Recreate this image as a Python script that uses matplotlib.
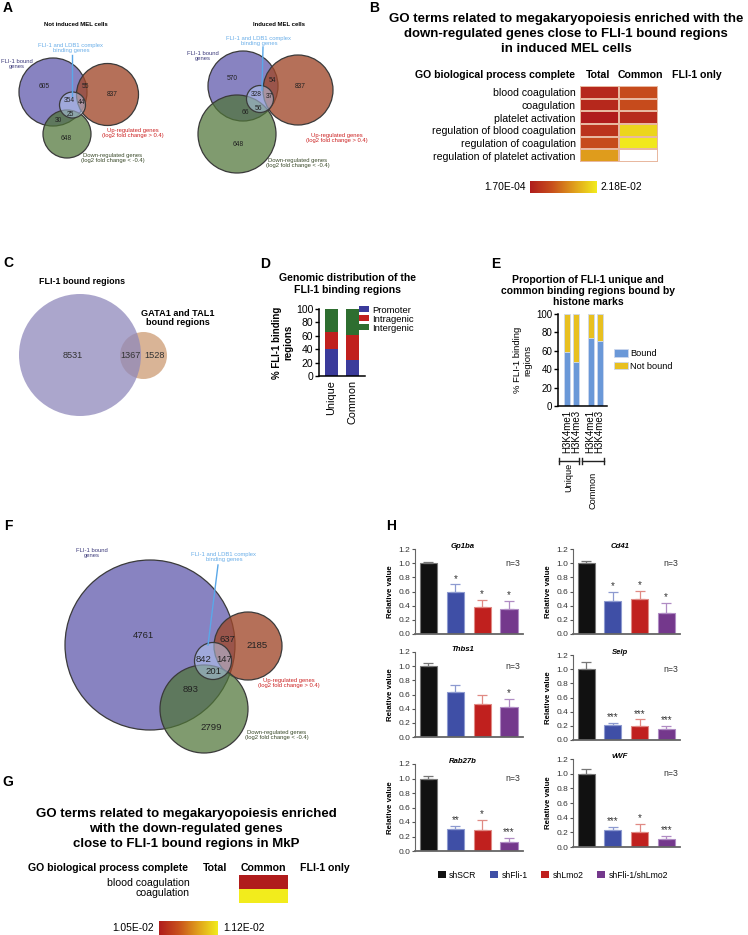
import numpy as np
import matplotlib.pyplot as plt
from matplotlib.patches import Circle, Patch
from matplotlib.colors import LinearSegmentedColormap, Normalize

plt.rcParams['font.family'] = ['Liberation Sans', 'DejaVu Sans']

# ---------------- data ----------------
# Panel A / F: Venn region counts
# order: FLI-1 only, FLI-1&up, up only, LDB1, LDB1&up, LDB1&down, FLI-1&down, down only
a_not_induced = [605, 55, 837, 354, 44, 25, 30, 648]
a_induced = [570, 54, 837, 328, 37, 56, 66, 648]
f_mkp = [4761, 637, 2185, 842, 147, 201, 893, 2799]

# Panel B: GO heatmap p-values
b_terms = ["blood coagulation", "coagulation", "platelet activation",
           "regulation of blood coagulation", "regulation of coagulation",
           "regulation of platelet activation"]
b_total = [1.9e-3, 1.9e-3, 1.7e-4, 3.4e-3, 6.7e-3, 1.42e-2]
b_common = [6.7e-3, 6.7e-3, 2.3e-3, 1.96e-2, 2.14e-2, np.nan]
b_range = [1.70e-4, 2.18e-2]

# Panel C: overlap of bound regions
c_counts = [8531, 1367, 1528]

# Panel D: genomic distribution (%)
d_groups = ["Unique", "Common"]
d_promoter = [40, 24.5]
d_intragenic = [26, 36.5]
d_intergenic = [34, 39]

# Panel E: histone marks (%)
e_marks = ["H3K4me1", "H3K4me3", "H3K4me1", "H3K4me3"]
e_bound = [59, 48, 74, 71]
e_not_bound = [41, 52, 26, 29]

# Panel G: GO heatmap in MkP
g_terms = ["blood coagulation", "coagulation"]
g_total = [np.nan, np.nan]
g_common = [1.05e-2, 1.12e-2]
g_range = [1.05e-2, 1.12e-2]

# Panel H: qPCR relative values
h_conditions = ["shSCR", "shFli-1", "shLmo2", "shFli-1/shLmo2"]
h_genes = ["Gp1ba", "Cd41", "Thbs1", "Selp", "Rab27b", "vWF"]
h_mean = [[1.0, 0.60, 0.38, 0.35],
          [1.0, 0.46, 0.50, 0.30],
          [1.0, 0.63, 0.46, 0.42],
          [1.0, 0.21, 0.20, 0.15],
          [1.0, 0.30, 0.29, 0.13],
          [1.0, 0.23, 0.21, 0.11]]
h_err = [[0.01, 0.10, 0.10, 0.12],
         [0.03, 0.14, 0.11, 0.14],
         [0.04, 0.11, 0.14, 0.12],
         [0.10, 0.03, 0.09, 0.05],
         [0.04, 0.05, 0.14, 0.05],
         [0.07, 0.04, 0.10, 0.04]]
h_stars = [["", "*", "*", "*"],
           ["", "*", "*", "*"],
           ["", "", "", "*"],
           ["", "***", "***", "***"],
           ["", "**", "*", "***"],
           ["", "***", "*", "***"]]

# ---------------- figure ----------------
W, H = 748, 935
fig = plt.figure(figsize=(W / 100, H / 100), dpi=100)


def px_axes(x0, y0, x1, y1):
    return fig.add_axes([x0 / W, 1 - y1 / H, (x1 - x0) / W, (y1 - y0) / H])


canvas = fig.add_axes([0, 0, 1, 1])
canvas.set_xlim(0, W)
canvas.set_ylim(H, 0)
canvas.axis('off')

for letter, (lx, ly) in zip("ABCDEFGH", [(8, 8), (374, 8), (8, 263), (265, 264),
                                         (496, 264), (8, 526), (8, 782), (391, 526)]):
    canvas.text(lx, ly, letter, fontsize=10, weight='bold', ha='center', va='center')


def circle(cx, cy, r, fc, alpha, edge=True):
    canvas.add_patch(Circle((cx, cy), r, fc=fc, ec='none', alpha=alpha))
    if edge:
        canvas.add_patch(Circle((cx, cy), r, fill=False, ec='#3a3a3a', lw=0.9))


def venn(circles, counts, count_pos, fsize, labels):
    (p, r, g, s) = circles
    circle(*p, '#5b54aa', 0.72)
    circle(*r, '#a0482a', 0.78)
    circle(*g, '#4f7537', 0.72)
    circle(*s, '#b8d0f5', 0.5)
    for n, (x, y) in zip(counts, count_pos):
        canvas.text(x, y, str(n), fontsize=fsize, ha='center', va='center', color='#222')
    lab_fs, fli, ldb, line, up, down = labels
    canvas.text(*fli, "FLI-1 bound\ngenes", fontsize=lab_fs, ha='center', va='center',
                color='#3c3a7a', linespacing=1.1)
    canvas.text(*ldb, "FLI-1 and LDB1 complex\nbinding genes", fontsize=lab_fs, ha='center',
                va='center', color='#6aaee8', linespacing=1.1)
    canvas.plot(line[0], line[1], color='#5aa8e8', lw=1)
    canvas.text(*up, "Up-regulated genes\n(log2 fold change > 0.4)", fontsize=lab_fs,
                ha='center', va='center', color='#cc2222', linespacing=1.1)
    canvas.text(*down, "Down-regulated genes\n(log2 fold change < -0.4)", fontsize=lab_fs,
                ha='center', va='center', color='#3a4a2a', linespacing=1.1)


# Panel A left
canvas.text(76, 25, "Not induced MEL cells", fontsize=4.3, weight='bold', ha='center', va='center')
venn([(53, 92, 34), (107.5, 94.5, 31), (67, 134, 24), (72.5, 105, 13)], a_not_induced,
     [(44, 86), (85, 87), (112, 94), (69, 101), (82, 103), (70, 114), (58, 121), (66, 139)], 4.8,
     (4.2, (17, 64), (71, 48), ([72, 72], [55, 97]), (133, 133), (113, 158)))

# Panel A right
canvas.text(279, 25, "Induced MEL cells", fontsize=4.3, weight='bold', ha='center', va='center')
venn([(243, 86, 35), (298, 90, 35), (237, 134, 39), (260, 99, 13.5)], a_induced,
     [(232, 79), (272, 80), (300, 87), (256, 95), (269, 97), (258, 108), (245, 113), (238, 144)], 4.8,
     (4.2, (203, 56), (259, 41), ([263, 262], [47, 90]), (337, 138), (298, 163)))

# Panel F
venn([(150, 645, 85), (248, 646, 34), (204, 709, 44), (213, 661, 18.5)], f_mkp,
     [(143, 635), (227, 639), (257, 646), (204, 659), (224, 659), (213, 672), (191, 690), (211, 727)], 6.8,
     (4.2, (92, 553), (224, 557), ([218, 208], [565, 645]), (289, 683), (277, 735)))

# Panel C
circle(143.5, 355.5, 23.5, '#c9956a', 0.7, edge=False)
circle(80, 355, 61, '#8f88bb', 0.75, edge=False)
canvas.text(82, 281, "FLI-1 bound regions", fontsize=6.4, weight='bold', ha='center', va='center')
canvas.text(178, 318, "GATA1 and TAL1\nbound regions", fontsize=6.6, weight='bold',
            ha='center', va='center', linespacing=1.1)
for n, (x, y) in zip(c_counts, [(73, 356), (131, 356), (155, 356)]):
    canvas.text(x, y, str(n), fontsize=6.6, ha='center', va='center', color='#333')

# ---------------- heatmaps ----------------
go_cmap = LinearSegmentedColormap.from_list('go', ['#b01c1c', '#c8501c', '#e0a01c', '#f2ec1c'])

canvas.text(566, 34, "GO terms related to megakaryopoiesis enriched with the\n"
            "down-regulated genes close to FLI-1 bound regions\nin induced MEL cells",
            fontsize=9.5, weight='bold', ha='center', va='center', linespacing=1.32)
for txt, x, ha in [("GO biological process complete", 575, 'right'), ("Total", 598, 'center'),
                   ("Common", 640, 'center'), ("FLI-1 only", 697, 'center')]:
    canvas.text(x, 75, txt, fontsize=7.6, weight='bold', ha=ha, va='center')

axb = px_axes(580, 86, 658, 162)
mb = np.ma.masked_invalid(np.array([b_total, b_common]).T)
axb.pcolormesh(mb, cmap=go_cmap, norm=Normalize(*b_range), edgecolors='#e8b8a0', linewidth=0.3)
axb.set_xlim(0, 2)
axb.set_ylim(6, 0)
axb.set_yticks(np.arange(6) + 0.5, b_terms, fontsize=7.6)
axb.set_xticks([])
axb.tick_params(length=0, pad=3)
for s in axb.spines.values():
    s.set_visible(False)

axcb = px_axes(530, 181, 597, 193)
axcb.imshow(np.linspace(0, 1, 256)[None, :], aspect='auto', cmap=go_cmap)
axcb.axis('off')
canvas.text(526, 187, "%.2E" % b_range[0], fontsize=7.4, ha='right', va='center')
canvas.text(601, 187, "%.2E" % b_range[1], fontsize=7.4, ha='left', va='center')

canvas.text(186, 829, "GO terms related to megakaryopoiesis enriched\nwith the down-regulated genes\n"
            "close to FLI-1 bound regions in MkP",
            fontsize=9.5, weight='bold', ha='center', va='center', linespacing=1.32)
for txt, x, ha in [("GO biological process complete", 188, 'right'), ("Total", 215, 'center'),
                   ("Common", 263, 'center'), ("FLI-1 only", 325, 'center')]:
    canvas.text(x, 868, txt, fontsize=7.6, weight='bold', ha=ha, va='center')

axg = px_axes(190, 875, 288, 903)
mg = np.ma.masked_invalid(np.array([g_total, g_common]).T)
axg.pcolormesh(mg, cmap=go_cmap, norm=Normalize(*g_range))
axg.set_xlim(0, 2)
axg.set_ylim(2, 0)
axg.set_yticks([0.5, 1.2], g_terms, fontsize=7.6)
axg.set_xticks([])
axg.tick_params(length=0, pad=0)
for s in axg.spines.values():
    s.set_visible(False)

axcg = px_axes(159, 921, 218, 935)
axcg.imshow(np.linspace(0, 1, 256)[None, :], aspect='auto', cmap=go_cmap)
axcg.axis('off')
canvas.text(154, 928, "%.2E" % g_range[0], fontsize=7.4, ha='right', va='center')
canvas.text(223, 928, "%.2E" % g_range[1], fontsize=7.4, ha='left', va='center')

# ---------------- Panel D ----------------
canvas.text(348, 284, "Genomic distribution of the\nFLI-1 binding regions", fontsize=7.6,
            weight='bold', ha='center', va='center', linespacing=1.15)
axd = px_axes(319, 309, 365, 376)
xd = np.arange(len(d_groups))
axd.bar(xd, d_promoter, 0.62, color='#3b3b9b', label='Promoter')
axd.bar(xd, d_intragenic, 0.62, bottom=d_promoter, color='#c0201e', label='Intragenic')
axd.bar(xd, d_intergenic, 0.62, bottom=np.add(d_promoter, d_intragenic), color='#2e6e30',
        label='Intergenic')
axd.set_xlim(-0.6, 1.6)
axd.set_ylim(0, 100)
axd.set_yticks(range(0, 101, 20))
axd.set_xticks(xd, d_groups, rotation=90)
axd.tick_params(axis='y', labelsize=7.5, length=3, width=1, pad=1)
axd.tick_params(axis='x', labelsize=7.8, length=0, pad=3)
axd.spines[['top', 'right']].set_visible(False)
axd.spines[['left', 'bottom']].set_linewidth(1.1)
axd.set_ylabel("% FLI-1 binding\nregions", fontsize=7, weight='bold', labelpad=2, linespacing=1.1)
axd.legend(loc='upper left', bbox_to_anchor=(0.88, 1.05), frameon=False, fontsize=6.8,
           handlelength=1.0, handleheight=0.6, labelspacing=0.0, handletextpad=0.3,
           borderpad=0, borderaxespad=0)

# ---------------- Panel E ----------------
canvas.text(588, 291, "Proportion of FLI-1 unique and\ncommon binding regions bound by\nhistone marks",
            fontsize=7.5, weight='bold', ha='center', va='center', linespacing=1.15)
axe = px_axes(558, 314, 607, 406)
xe = [0, 1, 2.6, 3.6]
axe.bar(xe, e_bound, 0.67, color='#6a98d8', edgecolor='#cdd8ee', lw=0.6, label='Bound')
axe.bar(xe, e_not_bound, 0.67, bottom=e_bound, color='#e8c020', edgecolor='#cdd8ee', lw=0.6,
        label='Not bound')
axe.set_xlim(-1, 4.4)
axe.set_ylim(0, 100)
axe.set_yticks(range(0, 101, 20))
axe.set_xticks(xe, e_marks, rotation=90)
axe.tick_params(axis='y', labelsize=7, length=3, width=1, pad=1)
axe.tick_params(axis='x', labelsize=7, length=0, pad=3)
axe.spines[['top', 'right']].set_visible(False)
axe.spines[['left', 'bottom']].set_linewidth(1.1)
axe.set_ylabel("% FLI-1 binding\nregions", fontsize=6.8, labelpad=3, linespacing=1.1)
axe.legend(loc='upper left', bbox_to_anchor=(1.15, 0.62), frameon=False, fontsize=6.6,
           handlelength=1.5, handleheight=0.9, labelspacing=0.4, handletextpad=0.2,
           borderpad=0, borderaxespad=0)
for x0, x1, name, ty in [(559, 579, "Unique", 463), (582, 604, "Common", 472)]:
    canvas.plot([x0, x1], [461, 461], color='#222', lw=1)
    canvas.plot([x0, x0], [458, 464], color='#222', lw=1)
    canvas.plot([x1, x1], [458, 464], color='#222', lw=1)
    canvas.text((x0 + x1) / 2, ty, name, rotation=90, fontsize=6.6, ha='center', va='top')

# ---------------- Panel H ----------------
h_colors = ['#111111', '#3f4fa6', '#c0201e', '#74388c']
h_edges = ['#777777', '#8d9ad0', '#e08a84', '#b08cc4']
h_boxes = [(415, 549, 523, 634), (573, 549, 680, 634), (415, 652, 523, 737),
           (573, 655, 680, 740), (415, 764, 523, 851), (573, 759, 680, 847)]
xh = np.arange(len(h_conditions))
for gene, mean, err, stars, box in zip(h_genes, h_mean, h_err, h_stars, h_boxes):
    ax = px_axes(*box)
    for i in xh:
        ax.bar(xh[i], mean[i], 0.64, color=h_colors[i], edgecolor=h_edges[i], lw=0.8,
               yerr=[[0], [err[i]]], error_kw=dict(ecolor=h_edges[i], capsize=3.5,
                                                    elinewidth=0.9, capthick=0.9))
        if stars[i]:
            ax.text(xh[i], mean[i] + err[i] + 0.01, stars[i], ha='center', va='bottom',
                    fontsize=7, color='#333')
    ax.set_xlim(-0.5, 3.52)
    ax.set_ylim(0, 1.2)
    ax.set_yticks(np.arange(0, 1.21, 0.2))
    ax.yaxis.set_major_formatter(plt.FormatStrFormatter('%.1f'))
    ax.set_xticks([])
    ax.tick_params(axis='y', labelsize=6, length=2.5, width=0.8, color='#555',
                   labelcolor='#333', pad=1)
    ax.spines[['top', 'right']].set_visible(False)
    ax.spines[['left', 'bottom']].set_color('#666')
    ax.spines['left'].set_linewidth(0.8)
    ax.spines['bottom'].set_linewidth(1.3)
    ax.set_ylabel("Relative value", fontsize=5.7, weight='bold', labelpad=3)
    ax.text(0.44, 1.03, gene, transform=ax.transAxes, fontsize=5.6, weight='bold',
            style='italic', ha='center', va='center')
    ax.text(0.91, 0.83, "n=3", transform=ax.transAxes, fontsize=6.3, ha='center',
            va='center', color='#333')

fig.legend([Patch(fc=c, ec='none') for c in h_colors], h_conditions, ncol=4, loc='center',
           bbox_to_anchor=(553 / W, 1 - 875 / H), frameon=False, fontsize=6.2,
           handlelength=0.9, handleheight=0.7, columnspacing=1.6, handletextpad=0.4)

fig.savefig("out.png", dpi=100)
